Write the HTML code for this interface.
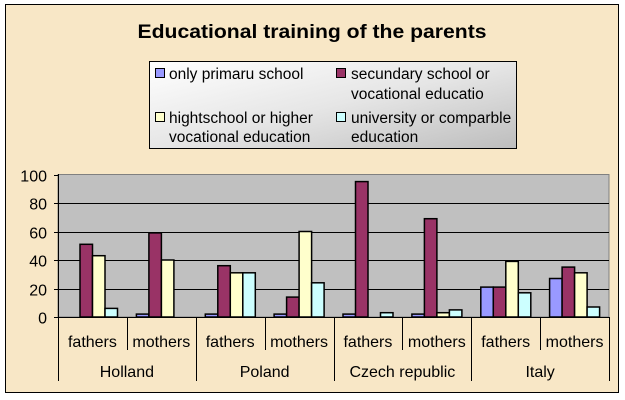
<!DOCTYPE html>
<html><head><meta charset="utf-8"><style>
html,body{margin:0;padding:0;background:#fff;}
svg{display:block;font-family:"Liberation Sans",Arial,sans-serif;}
</style></head><body>
<svg id="s" width="625" height="400" xmlns="http://www.w3.org/2000/svg">
<defs>
<linearGradient id="lg" x1="0" y1="0" x2="1" y2="1">
<stop offset="0" stop-color="#ffffff"/><stop offset="0.5" stop-color="#e6e6e6"/><stop offset="1" stop-color="#bdbdbd"/>
</linearGradient>
</defs>
<rect x="0" y="0" width="625" height="400" fill="#fff"/>
<rect x="5.5" y="4.5" width="613" height="388" fill="#f8e7c6" stroke="#000" stroke-width="1"/>
<text x="312" y="38" text-anchor="middle" font-size="19" font-weight="bold" textLength="349" lengthAdjust="spacingAndGlyphs">Educational training of the parents</text>
<rect x="149.5" y="61.5" width="367" height="87" fill="url(#lg)" stroke="#000"/>
<g font-size="15.5" fill="#000">
<rect x="155.5" y="68.5" width="9" height="9" fill="#9999ff" stroke="#000"/>
<text x="169" y="79">only primaru school</text>
<rect x="336.5" y="68.5" width="9" height="9" fill="#993366" stroke="#000"/>
<text x="351" y="79">secundary school or</text>
<text x="351" y="99">vocational educatio</text>
<rect x="155.5" y="112.5" width="9" height="9" fill="#ffffcc" stroke="#000"/>
<text x="169" y="123">hightschool or higher</text>
<text x="169" y="142">vocational education</text>
<rect x="336.5" y="112.5" width="9" height="9" fill="#ccffff" stroke="#000"/>
<text x="351" y="123">university or comparble</text>
<text x="351" y="142">education</text>
</g>
<rect x="58" y="174.5" width="551" height="142.5" fill="#c0c0c0" stroke="#808080"/>
<g id="grid" stroke="#000" stroke-width="1"></g>
<g id="bars" stroke="#000" stroke-width="1.5"></g>
<g id="lab" font-size="16" text-anchor="middle"></g>
</svg>
<script>
var NS="http://www.w3.org/2000/svg";
function el(p,t,a,txt){var e=document.createElementNS(NS,t);for(var k in a)e.setAttribute(k,a[k]);if(txt!=null)e.textContent=txt;document.getElementById(p).appendChild(e);}
var y0=317,sc=1.425;
for(var v=0;v<=100;v+=20){var y=Math.round(y0-v*sc)+0.5;
 if(v>0&&v<100)el("grid","line",{x1:58,x2:609,y1:y,y2:y});
 el("grid","line",{x1:54,x2:58,y1:y,y2:y});
 el("lab","text",{x:47,y:y+6,"text-anchor":"end"},v);}
el("grid","line",{x1:58.5,x2:58.5,y1:174,y2:381});
el("grid","line",{x1:58,x2:609,y1:317.5,y2:317.5});
var d=[[0,51,43,6],[2,59,40,0],[2,36,31,31],[2,14,60,24],[2,95,0,3],[2,69,3,5],[21,21,39,17],[27,35,31,7]];
var c=["#9999ff","#993366","#ffffcc","#ccffff"];
var gw=551/8;
for(var g=0;g<8;g++){var gx=58+g*gw;
 for(var i=0;i<4;i++){var v=d[g][i];if(v<=0)continue;var h=v*sc;
  el("bars","rect",{x:(gx+9.5+i*12.5).toFixed(1),y:(y0-h).toFixed(1),width:12.5,height:h.toFixed(1),fill:c[i]});}
 var xe=Math.round(gx+gw)+0.5;
 el("grid","line",{x1:xe,x2:xe,y1:317,y2:(g%2==1?381:350)});
 el("lab","text",{x:gx+gw/2,y:347},g%2?"mothers":"fathers");}
var n=["Holland","Poland","Czech republic","Italy"];
for(var k=0;k<4;k++)el("lab","text",{x:58+(2*k+1)*gw,y:377},n[k]);
</script>
</body></html>
